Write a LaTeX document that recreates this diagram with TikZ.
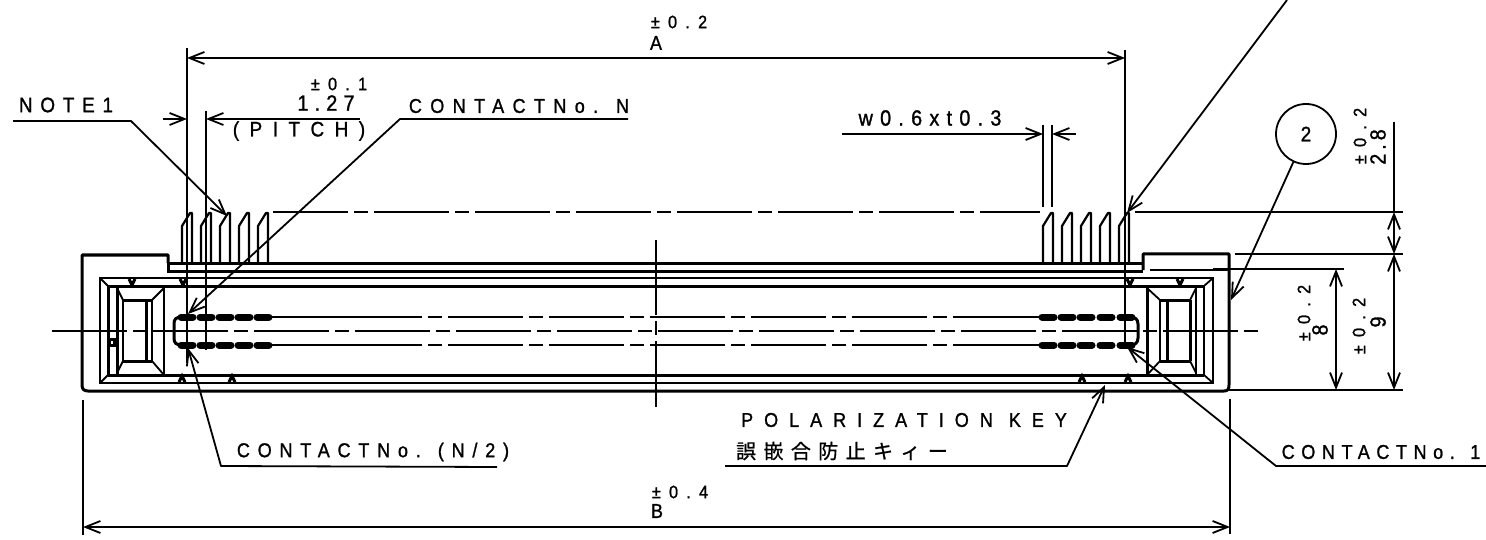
\documentclass[tikz,border=0pt]{standalone}
\usepackage{fontspec}
\setmainfont[FakeStretch=0.9,FakeBold=1.2]{Liberation Sans}
\newfontfamily\jpfont[FakeBold=0.8]{Noto Sans CJK JP}
\usetikzlibrary{arrows.meta}
\newcommand\lbl[3]{\fontsize{#1}{#1}\selectfont\addfontfeature{LetterSpace=#2}#3}
\tikzset{
 x=1pt,y=-1pt,
 hair/.style={line width=1.5pt,black},
 mid/.style={line width=1.8pt,black},
 heavy/.style={line width=3pt,black},
 contact/.style={line width=7pt,black,line cap=round},
 dimline/.style={line width=1.8pt,black,{Straight Barb[length=15pt,width=12pt,line width=1.8pt]}-{Straight Barb[length=15pt,width=12pt,line width=1.8pt]}},
 leader/.style={line width=1.8pt,black,-{Straight Barb[length=15pt,width=12pt,line width=1.8pt]},line join=round},
 centerl/.style={line width=1.5pt,black,dash pattern=on 75pt off 6pt on 14pt off 6pt},
 txt/.style={inner sep=0pt,black},
}
\begin{document}
\begin{tikzpicture}
\useasboundingbox (0,0) rectangle (1486,540);
% body
\draw[heavy,line join=round] (168,263) -- (168,255) -- (82,255) -- (82,385) .. controls (82,389) and (84,391) .. (88,391) -- (1224,391) .. controls (1228,391) and (1229,389) .. (1229,385) -- (1229,254) -- (1143,254) -- (1143,270);
\draw[heavy] (168,263) -- (1143,263);
\draw[heavy] (168,263) -- (168,271) -- (1143,271);
\draw[mid] (1150,270) -- (1229,270);
% frame
\draw[mid] (100,278) rectangle (1213,383);
\draw[heavy] (108,286) -- (1204,286);
\draw[heavy] (108,375) -- (1204,375);
\draw[heavy] (108,286) -- (108,375);
\draw[mid] (100,278) -- (108,286) (100,383) -- (108,375) (1213,278) -- (1204,286) (1213,383) -- (1204,375);
\draw[mid] (1204,286) -- (1204,375);
% polarization ticks
\foreach \tx in {132,183,1130,1180}{\draw[heavy] (\tx-3,279) -- (\tx,285) -- (\tx+3,279);}
\foreach \tx in {182,232,1082,1128}{\draw[heavy] (\tx-3,382) -- (\tx,376) -- (\tx+3,382);}
% left cavity
\draw[heavy] (117,286) -- (117,375);
\draw[mid] (164,286) -- (164,375);
\draw[mid] (123,300) -- (123,361);
\draw[heavy] (123,300) -- (152,300) (123,361) -- (152,361);
\draw[heavy] (146,300) -- (146,361);
\draw[mid] (152,300) -- (152,361);
\draw[mid] (117,288) -- (123,300) (117,373) -- (123,361) (164,288) -- (152,300) (164,375) -- (152,361);
\draw[heavy] (109,339) rectangle (114,345);
% right cavity
\draw[heavy] (1147,286) -- (1147,375);
\draw[mid] (1196,286) -- (1196,375);
\draw[mid] (1160,300) -- (1160,361);
\draw[heavy] (1167,300) -- (1167,361);
\draw[heavy] (1160,300) -- (1190,300) (1160,361) -- (1190,361);
\draw[heavy] (1190,300) -- (1190,361);
\draw[mid] (1147,288) -- (1160,300) (1147,375) -- (1160,361) (1196,288) -- (1190,300) (1196,373) -- (1190,361);
% contact rows
\foreach \ry in {317,345}{
 \foreach \cx in {187,206,225,244,263,1048,1067,1086,1106,1126}{\draw[contact] (\cx-6,\ry) -- (\cx+6,\ry);}
 \draw[mid] (268,\ry) -- (347,\ry);
 \draw[mid] (1040,\ry) -- (975,\ry);
 \draw[centerl] (347,\ry) -- (975,\ry);
}
\draw[heavy] (182,317) .. controls (176,317) and (174,319) .. (174,324) -- (174,338) .. controls (174,343) and (176,345) .. (182,345);
\draw[heavy] (1130,317) .. controls (1135,317) and (1138,319) .. (1138,324) -- (1138,338) .. controls (1138,343) and (1135,345) .. (1130,345);
% center lines
\draw[centerl] (52,331) -- (1260,331);
\draw[centerl] (656,240) -- (656,407);
\draw[centerl] (273,212) -- (1040,212);
% pins
\foreach \px in {182,201,220,239,258,1043,1062,1081,1100,1119}{
 \draw[mid,line width=2.2pt,line join=round] (\px,263) -- (\px,226) -- (\px+8,213) -- (\px+10,213) -- (\px+10,263);
}
% extension lines
\coordinate (a1) at (187,48); \coordinate (a1e) at (187,363);
\coordinate (a2) at (1125,50); \coordinate (a2e) at (1125,343);
\coordinate (a1d) at (187,58); \coordinate (a2d) at (1125,58);
\draw[hair] (a1) -- (a1e);
\draw[hair] (a2) -- (a2e);
\coordinate (p2) at (206,111); \coordinate (p2e) at (206,350);
\draw[hair] (p2) -- (p2e);
\coordinate (w1) at (1043,125); \coordinate (w1e) at (1043,207);
\coordinate (w2) at (1052,125); \coordinate (w2e) at (1052,207);
\draw[hair] (w1) -- (w1e) (w2) -- (w2e);
\coordinate (bl) at (83,400); \coordinate (ble) at (83,535);
\coordinate (br) at (1230,399); \coordinate (bre) at (1230,534);
\draw[hair] (bl) -- (ble) (br) -- (bre);
\draw[mid] (1135,212) -- (1403,212);
\draw[mid] (1235,254) -- (1403,254);
\draw[mid] (1213,269) -- (1344,269);
\draw[mid] (1229,390) -- (1403,390);
\draw[hair] (1394,122) -- (1394,212);
% dimensions
\draw[dimline] (a1d) -- (a2d);
\draw[dimline] (83,527) -- (1230,527);
\draw[dimline] (1394,212) -- (1394,254);
\draw[dimline] (1394,254) -- (1394,390);
\draw[dimline] (1336,269) -- (1336,390);
\coordinate (pa) at (187,119); \coordinate (pb) at (206,119);
\draw[leader] (163,119) -- (pa);
\draw[leader] (360,119) -- (pb);
\coordinate (wa) at (1043,134); \coordinate (wb) at (1052,134);
\draw[leader] (842,134) -- (wa);
\draw[leader] (1076,134) -- (wb);
% leaders
\draw[leader] (13,121) -- (131,121) -- (227,216);
\draw[leader] (628,119) -- (400,119) -- (188,314);
\draw[leader] (497,467) -- (221,466) -- (188,348);
\draw[leader] (725,466) -- (1067,466) -- (1105,385);
\draw[leader] (1486,466) -- (1276,466) -- (1127,347);
\draw[leader] (1287,0) -- (1127,213);
\node[circle,draw,line width=1.8pt,minimum size=60pt,inner sep=0pt] (c2) at (1306,134) {\lbl{21}{0}{2}};
\coordinate (c2t) at (1231,300);
\draw[leader] (c2) -- (c2t);
% text
\node[txt] (t1) at (679,22) {\lbl{18}{46}{±0.2}};
\node[txt] (t2) at (656,43) {\lbl{20}{0}{A}};
\node[txt] (t3) at (66,105) {\lbl{21}{37}{NOTE1}};
\node[txt] (t4) at (339,84) {\lbl{18}{46}{±0.1}};
\node[txt] (t5) at (326,103) {\lbl{22}{28}{1.27}};
\node[txt] (t6) at (299,131) {\lbl{21}{50}{(PITCH)}};
\node[txt] (t7) at (519,106) {\lbl{20}{42}{CONTACTNo. N}};
\node[txt] (t8) at (930,118) {\lbl{22}{33}{w0.6xt0.3}};
\node[txt] (t9) at (904,420) {\lbl{20}{55}{POLARIZATION KEY}};
\node[txt] (t10) at (842,451) {\fontsize{20}{20}\jpfont\addfontfeature{LetterSpace=37}誤嵌合防止キィー};
\node[txt] (t11) at (373,452) {\lbl{20}{39}{CONTACTNo. (N/2)}};
\node[txt] (t12) at (1381,452) {\lbl{20}{33}{CONTACTNo. 1}};
\node[txt] (t13) at (680,492) {\lbl{18}{46}{±0.4}};
\node[txt] (t14) at (657,511) {\lbl{20}{0}{B}};
\node[txt,rotate=90] (t15) at (1360,136) {\lbl{18}{46}{±0.2}};
\node[txt,rotate=90] (t16) at (1378,147) {\lbl{22}{18}{2.8}};
\node[txt,rotate=90] (t17) at (1304,313) {\lbl{18}{46}{±0.2}};
\node[txt,rotate=90] (t18) at (1320,330) {\lbl{22}{0}{8}};
\node[txt,rotate=90] (t19) at (1359,326) {\lbl{18}{46}{±0.2}};
\node[txt,rotate=90] (t20) at (1378,322) {\lbl{22}{0}{9}};
\end{tikzpicture}
\end{document}
